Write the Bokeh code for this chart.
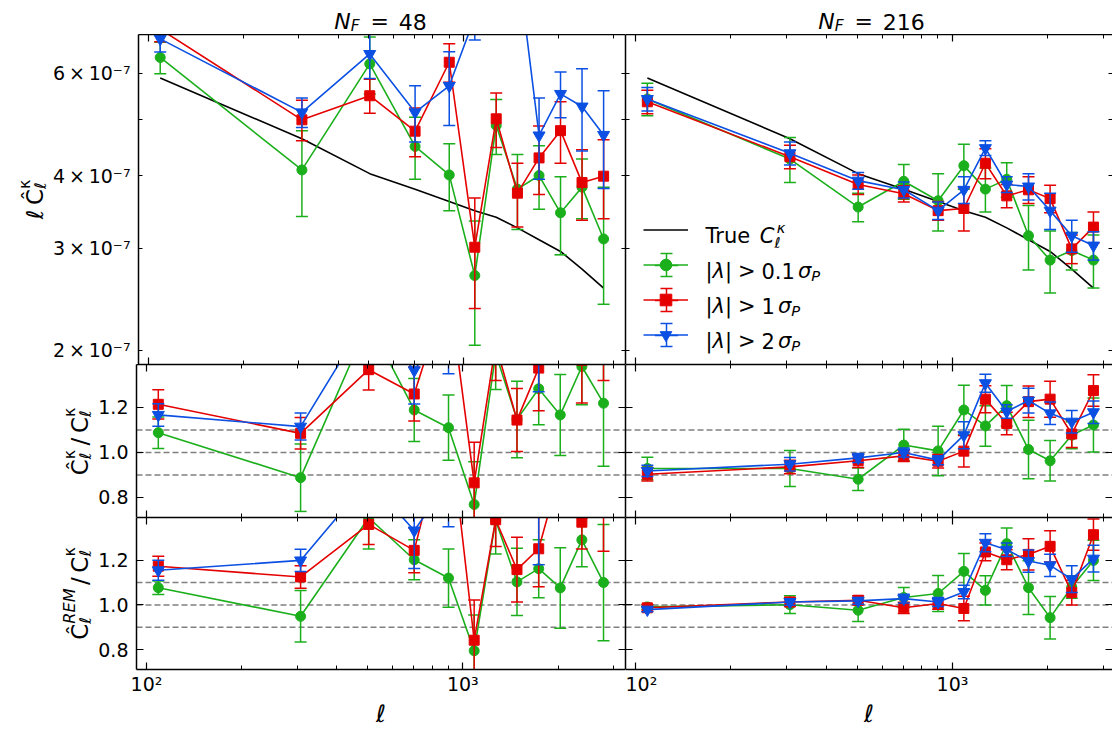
import math
from bokeh.plotting import figure
from bokeh.models import (Range1d, FixedTicker, LogAxis, LinearAxis, Span, Label,
                          Legend, LegendItem, ColumnDataSource)
from bokeh.layouts import column, row
from bokeh.embed import file_html
from bokeh.resources import INLINE

# ---------------- data ----------------
ell = [109, 307, 504, 702, 901, 1086, 1270, 1483, 1737, 2032, 2378, 2784]
true_cl = [5.89e-7, 4.63e-7, 4.03e-7, 3.79e-7, 3.61e-7, 3.48e-7, 3.39e-7,
           3.25e-7, 3.10e-7, 2.96e-7, 2.76e-7, 2.56e-7]

# N_F = 48, ell * C_ell
top48_g = [6.39e-7, 4.09e-7, 6.23e-7, 4.49e-7, 4.01e-7, 2.69e-7, 4.88e-7, 3.79e-7, 4.00e-7, 3.45e-7, 3.82e-7, 3.11e-7]
top48_g_err = [0.40e-7, 0.69e-7, 0.70e-7, 0.55e-7, 0.53e-7, 0.65e-7, 0.53e-7, 0.56e-7, 0.50e-7, 0.53e-7, 0.45e-7, 0.71e-7]
top48_r = [7.15e-7, 4.99e-7, 5.49e-7, 4.77e-7, 6.27e-7, 3.01e-7, 5.01e-7, 3.73e-7, 4.29e-7, 4.78e-7, 3.89e-7, 3.99e-7]
top48_r_err = [0.35e-7, 0.40e-7, 0.37e-7, 0.46e-7, 0.48e-7, 0.65e-7, 0.54e-7, 0.47e-7, 0.58e-7, 0.58e-7, 0.54e-7, 0.62e-7]
top48_b = [6.88e-7, 5.14e-7, 6.48e-7, 5.14e-7, 5.71e-7, 7.50e-7, 8.50e-7, 9.40e-7, 4.69e-7, 5.53e-7, 5.26e-7, 4.70e-7]
top48_b_err = [0.35e-7, 0.30e-7, 0.60e-7, 0.57e-7, 0.83e-7, 0.65e-7, 0.70e-7, 0.80e-7, 0.75e-7, 0.50e-7, 0.85e-7, 0.90e-7]

# N_F = 216, ell * C_ell
top216_g = [5.42e-7, 4.27e-7, 3.53e-7, 3.91e-7, 3.62e-7, 4.16e-7, 3.79e-7, 3.94e-7, 3.15e-7, 2.86e-7, 2.97e-7, 2.86e-7]
top216_g_err = [0.35e-7, 0.38e-7, 0.20e-7, 0.27e-7, 0.41e-7, 0.37e-7, 0.33e-7, 0.27e-7, 0.40e-7, 0.35e-7, 0.22e-7, 0.30e-7]
top216_r = [5.36e-7, 4.31e-7, 3.86e-7, 3.72e-7, 3.48e-7, 3.51e-7, 4.20e-7, 3.69e-7, 3.78e-7, 3.65e-7, 2.99e-7, 3.26e-7]
top216_r_err = [0.25e-7, 0.20e-7, 0.15e-7, 0.12e-7, 0.13e-7, 0.30e-7, 0.25e-7, 0.17e-7, 0.20e-7, 0.20e-7, 0.17e-7, 0.20e-7]
top216_b = [5.42e-7, 4.37e-7, 3.92e-7, 3.78e-7, 3.48e-7, 3.78e-7, 4.46e-7, 3.86e-7, 3.83e-7, 3.48e-7, 3.15e-7, 3.03e-7]
top216_b_err = [0.25e-7, 0.20e-7, 0.13e-7, 0.12e-7, 0.12e-7, 0.20e-7, 0.13e-7, 0.12e-7, 0.20e-7, 0.25e-7, 0.20e-7, 0.17e-7]

# ratio C_hat / C, N_F = 48
mid48_g = [1.088, 0.888, 1.58, 1.189, 1.110, 0.769, 1.44, 1.147, 1.283, 1.167, 1.382, 1.219]
mid48_g_err = [0.07, 0.15, 0.17, 0.14, 0.145, 0.19, 0.16, 0.17, 0.16, 0.18, 0.17, 0.28]
mid48_r = [1.214, 1.085, 1.368, 1.260, 1.74, 0.865, 1.48, 1.144, 1.375, 1.61, 1.41, 1.56]
mid48_r_err = [0.065, 0.07, 0.09, 0.12, 0.13, 0.18, 0.16, 0.14, 0.19, 0.20, 0.19, 0.24]
mid48_b = [1.167, 1.115, 1.61, 1.365, 1.58, 2.15, 2.5, 2.9, 1.51, 1.87, 1.9, 1.84]
mid48_b_err = [0.05, 0.06, 0.15, 0.15, 0.23, 0.19, 0.20, 0.25, 0.24, 0.17, 0.31, 0.35]

# ratio C_hat / C, N_F = 216
mid216_g = [0.929, 0.929, 0.881, 1.033, 1.007, 1.189, 1.118, 1.208, 1.013, 0.963, 1.077, 1.122]
mid216_g_err = [0.05, 0.08, 0.05, 0.07, 0.11, 0.11, 0.09, 0.09, 0.13, 0.09, 0.06, 0.12]
mid216_r = [0.903, 0.936, 0.963, 0.985, 0.961, 1.006, 1.237, 1.129, 1.226, 1.237, 1.082, 1.275]
mid216_r_err = [0.03, 0.03, 0.03, 0.025, 0.03, 0.07, 0.06, 0.05, 0.07, 0.08, 0.06, 0.07]
mid216_b = [0.918, 0.948, 0.976, 1.0, 0.966, 1.077, 1.308, 1.182, 1.231, 1.174, 1.137, 1.179]
mid216_b_err = [0.025, 0.03, 0.02, 0.02, 0.02, 0.06, 0.04, 0.03, 0.055, 0.05, 0.05, 0.05]

# ratio C_hat^REM / C, N_F = 48
bot48_g = [1.077, 0.949, 1.39, 1.202, 1.120, 0.795, 1.378, 1.103, 1.162, 1.076, 1.291, 1.10]
bot48_g_err = [0.03, 0.115, 0.14, 0.09, 0.13, 0.16, 0.15, 0.15, 0.13, 0.18, 0.12, 0.26]
bot48_r = [1.173, 1.125, 1.36, 1.244, 1.85, 0.842, 1.381, 1.158, 1.251, 1.6, 1.37, 1.45]
bot48_r_err = [0.045, 0.05, 0.09, 0.10, 0.20, 0.18, 0.12, 0.145, 0.17, 0.20, 0.12, 0.21]
bot48_b = [1.155, 1.199, 1.56, 1.333, 1.55, 2.0, 2.3, 2.6, 1.45, 1.8, 1.85, 1.75]
bot48_b_err = [0.045, 0.05, 0.15, 0.17, 0.20, 0.19, 0.20, 0.25, 0.27, 0.17, 0.31, 0.35]

# ratio C_hat^REM / C, N_F = 216
bot216_g = [0.991, 1.001, 0.976, 1.033, 1.051, 1.150, 1.065, 1.274, 1.077, 0.943, 1.080, 1.199]
bot216_g_err = [0.01, 0.04, 0.05, 0.045, 0.08, 0.08, 0.065, 0.07, 0.12, 0.095, 0.05, 0.09]
bot216_r = [0.987, 1.013, 1.021, 0.987, 1.006, 0.984, 1.237, 1.202, 1.226, 1.262, 1.055, 1.314]
bot216_r_err = [0.015, 0.02, 0.02, 0.025, 0.025, 0.055, 0.04, 0.045, 0.07, 0.07, 0.055, 0.07]
bot216_b = [0.979, 1.013, 1.018, 1.028, 1.013, 1.058, 1.278, 1.247, 1.196, 1.177, 1.115, 1.207]
bot216_b_err = [0.01, 0.015, 0.015, 0.02, 0.02, 0.03, 0.04, 0.03, 0.05, 0.05, 0.06, 0.06]

ref_lines = [0.9, 1.0, 1.1]
x_major = [100, 1000]
x_minor = [200, 300, 400, 500, 600, 700, 800, 900, 2000, 3000]
x_labels = {100: "10²", 1000: "10³"}
ytop_major = [2e-7, 3e-7, 4e-7, 6e-7]
ytop_minor = [5e-7]
ytop_labels = {2e-7: "2\u2009×\u200910⁻⁷", 3e-7: "3\u2009×\u200910⁻⁷",
               4e-7: "4\u2009×\u200910⁻⁷", 6e-7: "6\u2009×\u200910⁻⁷"}
yrat_major = [0.8, 1.0, 1.2]
yrat_labels = {0.8: "0.8", 1.0: "1.0", 1.2: "1.2"}

# ---------------- style / geometry ----------------
FONT = "DejaVu Sans"
GREEN = "#1caf1c"
RED = "#e50000"
BLUE = "#0b50e3"

TOTAL_W = 1112
TITLE_H = 34
FL = 135                 # frame left (abs)
FWL, FWR = 490, 487      # frame widths
FHT, FHM, FHB, BB = 330, 153, 153, 60
STRIP_W = {0: 50, 1: 95, 2: 95}   # y-label strip per row
XR_L = (93.0, 3267.0)
XR_R = (93.0, 3197.0)
YR_TOP = (1.89e-7, 7.0e-7)
YR_RAT = (0.711, 1.391)
ROW_TOP = {0: TITLE_H, 1: TITLE_H + FHT, 2: TITLE_H + FHT + FHM}
ROW_FH = {0: FHT, 1: FHM, 2: FHB}

W = {' ': 0.318, '0': 0.636, '1': 0.636, '2': 0.636, '4': 0.636, '8': 0.636, '6': 0.636,
     '.': 0.318, '=': 0.838, '>': 0.838, '|': 0.337, '/': 0.337, 'T': 0.611, 'r': 0.411,
     'u': 0.634, 'e': 0.615, 'C': 0.698, 'Ĉ': 0.698, 'N': 0.748, 'F': 0.575, 'P': 0.603,
     'R': 0.695, 'E': 0.632, 'M': 0.863, 'ℓ': 0.42, 'κ': 0.58, 'λ': 0.592, 'σ': 0.634}


def text_width(s):
    return sum(W.get(ch, 0.6) for ch in s)


def seg(text, italic=False, scale=1.0, dy=0.0, dx=0.0, stack=False):
    return dict(kind="text", text=text, italic=italic, scale=scale, dy=dy, dx=dx, stack=stack)


def gap(em):
    return dict(kind="gap", em=em)


def rich(p, segs, ax, ay, frame_left, frame_bottom, size, angle=0.0, align="left"):
    """Place a composed piece of text (sub/superscripts) made of real text labels."""
    pieces = []
    t = 0.0
    base = 0.0
    for s in segs:
        if s["kind"] == "gap":
            t += s["em"] * size
            continue
        fs = size * s["scale"]
        w = text_width(s["text"]) * fs
        if s["stack"]:
            start = base
            t = max(t, start + w)
        else:
            start = t
            base = start
            t = start + w
        pieces.append((s, fs, start + s["dx"] * size, s["dy"] * size))
    off = -t / 2 if align == "center" else 0.0
    ca, sa = math.cos(angle), math.sin(angle)
    for s, fs, along, down in pieces:
        a = along + off
        X = ax + a * ca + down * sa
        Y = ay - a * sa + down * ca
        p.add_layout(Label(x=X - frame_left, y=frame_bottom - Y, x_units="screen", y_units="screen",
                           text=s["text"], angle=angle, text_font=FONT,
                           text_font_style="italic" if s["italic"] else "normal",
                           text_font_size=f"{fs:.1f}px", text_color="black",
                           text_align="left", text_baseline="alphabetic"))


def style_axis(ax, ticker, labels=None, major_in=7, minor_in=4, standoff=8, line=True):
    ax.ticker = ticker
    ax.axis_line_color = "black" if line else None
    ax.axis_line_width = 1.5
    ax.major_tick_in = major_in
    ax.major_tick_out = 0
    ax.minor_tick_in = minor_in
    ax.minor_tick_out = 0
    ax.major_tick_line_color = "black"
    ax.major_tick_line_width = 1.2
    ax.minor_tick_line_color = "black"
    ax.minor_tick_line_width = 1.0
    if labels:
        ax.major_label_overrides = labels
        ax.major_label_text_font = FONT
        ax.major_label_text_font_size = "19px"
        ax.major_label_text_color = "black"
        ax.major_label_standoff = standoff
    else:
        ax.major_label_text_color = None
        ax.major_label_standoff = 0


def blank_fig(w, h):
    p = figure(width=w, height=h, x_range=Range1d(0, 1), y_range=Range1d(0, 1),
               x_axis_location=None, y_axis_location=None, output_backend="svg",
               toolbar_location=None, min_border=0)
    p.xgrid.visible = False
    p.ygrid.visible = False
    p.outline_line_color = None
    p.background_fill_color = "white"
    p.border_fill_color = "white"
    return p


def make_panel(col, r):
    left = col == 0
    border_left = FL - STRIP_W[r] if left else 0
    w = border_left + FWL if left else FWR
    h = ROW_FH[r] + (BB if r == 2 else 0)
    p = figure(width=w, height=h, x_axis_type="log",
               y_axis_type=("log" if r == 0 else "linear"),
               x_range=Range1d(*(XR_L if left else XR_R)),
               y_range=Range1d(*(YR_TOP if r == 0 else YR_RAT)),
               output_backend="svg", toolbar_location=None,
               min_border_left=border_left, min_border_right=0,
               min_border_top=0, min_border_bottom=(BB if r == 2 else 0))
    p.xgrid.visible = False
    p.ygrid.visible = False
    p.outline_line_color = None
    p.background_fill_color = "white"
    p.border_fill_color = "white"
    bx = p.below[0]
    style_axis(bx, FixedTicker(ticks=x_major, minor_ticks=x_minor),
               x_labels if r == 2 else None, standoff=3)
    if r == 2:
        bx.axis_label = "ℓ"
        bx.axis_label_text_font = FONT
        bx.axis_label_text_font_style = "italic"
        bx.axis_label_text_font_size = "24px"
        bx.axis_label_text_color = "black"
        bx.axis_label_standoff = 2
    top_ax = LogAxis()
    style_axis(top_ax, FixedTicker(ticks=x_major, minor_ticks=x_minor))
    p.add_layout(top_ax, "above")
    ly = p.left[0]
    if r == 0:
        style_axis(ly, FixedTicker(ticks=ytop_major, minor_ticks=ytop_minor),
                   ytop_labels if left else None, major_in=4, minor_in=4)
        ra = LogAxis()
        style_axis(ra, FixedTicker(ticks=ytop_major, minor_ticks=ytop_minor),
                   major_in=4, minor_in=4, line=left)
    else:
        style_axis(ly, FixedTicker(ticks=yrat_major, minor_ticks=[]),
                   yrat_labels if left else None)
        ra = LinearAxis()
        style_axis(ra, FixedTicker(ticks=yrat_major, minor_ticks=[]), line=left)
        for v in ref_lines:
            p.add_layout(Span(location=v, dimension="width", line_color="#808080",
                              line_width=1.5, line_dash="6 3", level="underlay"))
    p.add_layout(ra, "right")
    return p


def draw_series(p, y, err, color, marker, size):
    lo = [v - e for v, e in zip(y, err)]
    hi = [v + e for v, e in zip(y, err)]
    src = ColumnDataSource(dict(x=ell, y=y, lo=lo, hi=hi))
    p.segment(x0="x", y0="lo", x1="x", y1="hi", source=src, line_color=color, line_width=1.5)
    p.scatter(x="x", y="lo", marker="dash", size=12, line_color=color, line_width=1.5, source=src)
    p.scatter(x="x", y="hi", marker="dash", size=12, line_color=color, line_width=1.5, source=src)
    ln = p.line(x="x", y="y", source=src, line_color=color, line_width=1.6)
    mk = p.scatter(x="x", y="y", marker=marker, size=size, fill_color=color,
                   line_color=color, source=src)
    return ln, mk


MARK = [("circle", 10, GREEN), ("square", 10, RED), ("inverted_triangle", 12, BLUE)]

panels = {}
for r in range(3):
    for c in range(2):
        panels[(r, c)] = make_panel(c, r)

series = {
    (0, 0): [(top48_g, top48_g_err), (top48_r, top48_r_err), (top48_b, top48_b_err)],
    (0, 1): [(top216_g, top216_g_err), (top216_r, top216_r_err), (top216_b, top216_b_err)],
    (1, 0): [(mid48_g, mid48_g_err), (mid48_r, mid48_r_err), (mid48_b, mid48_b_err)],
    (1, 1): [(mid216_g, mid216_g_err), (mid216_r, mid216_r_err), (mid216_b, mid216_b_err)],
    (2, 0): [(bot48_g, bot48_g_err), (bot48_r, bot48_r_err), (bot48_b, bot48_b_err)],
    (2, 1): [(bot216_g, bot216_g_err), (bot216_r, bot216_r_err), (bot216_b, bot216_b_err)],
}

legend_handles = []
true_line = None
for key, lst in series.items():
    p = panels[key]
    if key[0] == 0:
        tl = p.line(x=ell, y=true_cl, line_color="black", line_width=1.6)
        if key == (0, 1):
            true_line = tl
    for (y, e), (mk, sz, colr) in zip(lst, MARK):
        h = draw_series(p, y, e, colr, mk, sz)
        if key == (0, 1):
            legend_handles.append(h)

# ---------------- legend (top-right panel) ----------------
pl = panels[(0, 1)]
FB_TOP = TITLE_H + FHT   # frame bottom of top row (abs)
RL = FL + FWL            # right column frame left (abs)
row_c = [229.5, 264.5, 299.5, 334.5]
glyph_cx = 665.5 - RL


def add_legend(p, items, loc, gw, gh, spacing=0):
    p.add_layout(Legend(items=items, location=loc, glyph_width=gw, glyph_height=gh,
                        spacing=spacing, padding=0, margin=0, border_line_color=None,
                        background_fill_alpha=0, label_text_font_size="1px",
                        label_standoff=0, label_width=0, label_height=0))


nan = float("nan")
for i, (mk, sz, colr) in enumerate(MARK):
    c = row_c[i + 1]
    bar = pl.scatter(x=[nan], y=[nan], marker="cross", size=10, line_color=colr, line_width=1.5)
    add_legend(pl, [LegendItem(label=" ", renderers=[bar])],
               (glyph_cx - 29, FB_TOP - (c + 29)), 58, 58)
    cap = pl.scatter(x=[nan], y=[nan], marker="dash", size=10, line_color=colr, line_width=1.5)
    for sh in (-11.5, 11.5):
        add_legend(pl, [LegendItem(label=" ", renderers=[cap])],
                   (glyph_cx - 15, FB_TOP - (c + sh + 15)), 30, 30)

main_items = [LegendItem(label=" ", renderers=[true_line])]
for ln, mk in legend_handles:
    main_items.append(LegendItem(label=" ", renderers=[ln, mk]))
add_legend(pl, main_items, (643 - RL, FB_TOP - (row_c[0] - 14.5 + 4 * 29 + 3 * 6)), 45, 29, 6)

LS = 21
rich(pl, [seg("True"), gap(0.318), seg("C", True), seg("ℓ", True, 0.7, dy=0.3),
          seg("κ", True, 0.7, dy=-0.42, dx=0.1, stack=True)],
     705, row_c[0] + 6, RL, FB_TOP, LS)
for i, num in enumerate(["0.1", "1", "2"]):
    rich(pl, [seg("|"), seg("λ", True), seg("|"), gap(0.28), seg(">"), gap(0.28), seg(num),
              gap(0.15), seg("σ", True), seg("P", True, 0.7, dy=0.22)],
         705, row_c[i + 1] + 6, RL, FB_TOP, LS)

# ---------------- title strip ----------------
title_fig = blank_fig(TOTAL_W, TITLE_H)
TS = 22
rich(title_fig, [seg("N", True), seg("F", True, 0.7, dy=0.22), gap(0.5), seg("="),
                 gap(0.45), seg("48")], FL + FWL / 2, 21, 0, TITLE_H, TS, align="center")
rich(title_fig, [seg("N", True), seg("F", True, 0.7, dy=0.22), gap(0.5), seg("="),
                 gap(0.45), seg("216")], RL + 246, 21, 0, TITLE_H, TS, align="center")

# ---------------- y-label strips (frames aligned with the row's panels) ----------------
YS = 23
HALF = math.pi / 2
strips = {}
for r in range(3):
    strips[r] = blank_fig(STRIP_W[r], ROW_FH[r] + (BB if r == 2 else 0))

sub_l = seg("ℓ", False, 0.7, dy=0.28)
sup_k = seg("κ", False, 0.7, dy=-0.45, stack=True)
rich(strips[0], [seg("ℓ"), gap(0.2), seg("Ĉ"), sub_l, sup_k],
     34, 199, 0, ROW_TOP[0] + FHT, YS, angle=HALF, align="center")
rich(strips[1], [seg("Ĉ"), sub_l, sup_k, gap(0.2), seg("/"), gap(0.2), seg("C"), sub_l, sup_k],
     79, 441, 0, ROW_TOP[1] + FHM, YS, angle=HALF, align="center")
rich(strips[2], [seg("Ĉ"), sub_l, seg("REM", True, 0.7, dy=-0.45, stack=True),
                 gap(0.15), seg("/"), gap(0.2), seg("C"), sub_l, sup_k],
     79, 594, 0, ROW_TOP[2] + FHB, YS, angle=HALF, align="center")

layout = column(title_fig,
                row(strips[0], panels[(0, 0)], panels[(0, 1)]),
                row(strips[1], panels[(1, 0)], panels[(1, 1)]),
                row(strips[2], panels[(2, 0)], panels[(2, 1)]))

open("out.html", "w").write(file_html(layout, INLINE, title="Power spectrum"))
